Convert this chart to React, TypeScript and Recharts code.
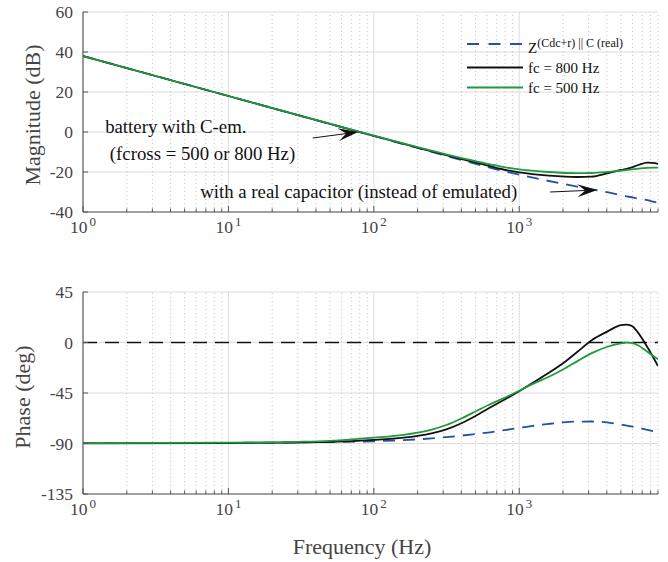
import React from 'react';
import { LineChart, Line, XAxis, YAxis, CartesianGrid, ReferenceLine, ReferenceDot } from 'recharts';

const magFreq = [1, 10, 100, 200, 315, 500, 750, 1000, 1600, 2500, 3150, 4000, 5000, 5800, 6600, 7600, 8300, 9000];
const magReal = [38, 18, -2, -8, -12, -15.9, -19.3, -21.3, -24.5, -27.3, -28.7, -30.1, -31.6, -32.5, -33.3, -34.1, -34.8, -35.4];
const mag800 = [38, 18, -1.9, -7.8, -11.6, -15.2, -18.5, -20.2, -21.8, -22.5, -22.3, -20.7, -19.0, -17.9, -16.5, -15.3, -15.4, -16.0];
const mag500 = [38, 18, -1.8, -7.6, -11.2, -14.6, -17.3, -18.7, -20.0, -20.6, -20.5, -20.0, -19.3, -18.8, -18.3, -17.9, -17.8, -17.8];

const phaseFreq = [1, 10, 30, 50, 100, 160, 200, 250, 315, 400, 500, 630, 800, 1000, 1200, 1600, 2000, 2500, 3150, 4000, 5000, 5500, 6000, 6500, 7600, 9000];
const phaseReal = [-89.6, -89.4, -89, -88.7, -88, -87, -86.3, -85.4, -84.3, -83, -81.6, -80, -78, -76, -74.6, -72.5, -71.2, -70.5, -70.4, -71.2, -73, -74, -75, -75.8, -77.8, -80];
const phase800 = [-89.8, -89.6, -89.1, -88.6, -86.8, -84.8, -83.2, -81, -77.5, -72, -65.5, -58, -50.5, -43.5, -37, -27, -18.5, -8.5, 2, 9.5, 15.5, 16, 14.5, 9.5, -4, -21];
const phase500 = [-89.7, -89.3, -88.5, -87.6, -84.8, -82.3, -80.3, -77.6, -73.5, -67.7, -61.5, -55, -49, -43, -37.8, -30.5, -24, -16.8, -9.5, -4, -0.8, 0, -0.6, -2.2, -8.2, -15];

const majorTicks = [1, 10, 100, 1000];
const minorTicks = [2, 3, 4, 5, 6, 7, 8, 9, 20, 30, 40, 50, 60, 70, 80, 90, 200, 300, 400, 500, 600, 700, 800, 900, 2000, 3000, 4000, 5000, 6000, 7000, 8000, 9000];
const allXTicks = [...majorTicks, ...minorTicks].sort((a, b) => a - b);
const magTicks = [-40, -20, 0, 20, 40, 60];
const phaseTicks = [-135, -90, -45, 0, 45];

const legendLabels = ['fc = 800 Hz', 'fc = 500 Hz'];

const magData = magFreq.map((f, i) => ({ f, real: magReal[i], fc800: mag800[i], fc500: mag500[i] }));
const phaseData = phaseFreq.map((f, i) => ({ f, real: phaseReal[i], fc800: phase800[i], fc500: phase500[i] }));

const FONT = 'Liberation Serif, "DejaVu Serif", serif';
const AXIS = '#555';
const TXT = '#444';
const BLUE = '#2350a8';
const BLACK = '#111';
const GREEN = '#1f9a3c';

function XTick(props: any) {
  const { x, y, payload } = props;
  const v = payload.value;
  const major = majorTicks.includes(v);
  const exp = Math.round(Math.log10(v));
  return (
    <g>
      <line x1={x} x2={x} y1={y} y2={y - (major ? 6 : 3.5)} stroke={AXIS} strokeWidth={1} />
      {major && (
        <text x={x} y={y + 21} textAnchor="middle" style={{ fontFamily: FONT }} fontSize={17.5} fill={TXT}>
          10<tspan dx={2} dy={-7} fontSize={13}>{exp}</tspan>
        </text>
      )}
    </g>
  );
}

function YTick(props: any) {
  const { x, y, payload } = props;
  return (
    <g>
      <line x1={x} x2={x + 5} y1={y} y2={y} stroke={AXIS} strokeWidth={1} />
      <text x={x - 10} y={y + 6} textAnchor="end" style={{ fontFamily: FONT }} fontSize={17.5} fill={TXT}>
        {payload.value}
      </text>
    </g>
  );
}

function Arrow(props: any) {
  const { x1, y1, x2, y2 } = props;
  const dx = x2 - x1;
  const dy = y2 - y1;
  const len = Math.sqrt(dx * dx + dy * dy) || 1;
  const ux = dx / len;
  const uy = dy / len;
  const nx = -uy;
  const ny = ux;
  const L = 20;
  const W = 6.5;
  const bx = x2 - L * ux;
  const by = y2 - L * uy;
  const mx = x2 - 0.6 * L * ux;
  const my = y2 - 0.6 * L * uy;
  const pts = `${x2},${y2} ${bx + W * nx},${by + W * ny} ${mx},${my} ${bx - W * nx},${by - W * ny}`;
  return (
    <g>
      <line x1={x1} y1={y1} x2={mx} y2={my} stroke={BLACK} strokeWidth={1} />
      <polygon points={pts} fill={BLACK} />
    </g>
  );
}

const textShape = (t: string) => (p: any) => (
  <text x={p.cx} y={p.cy} style={{ fontFamily: FONT }} fontSize={18.8} fill={BLACK}>{t}</text>
);

function gridLines() {
  return [
    ...minorTicks.map((v) => (
      <ReferenceLine key={'mi' + v} x={v} stroke="#c4c4c4" strokeWidth={1} strokeDasharray="1 3" />
    )),
    ...majorTicks.slice(1).map((v) => (
      <ReferenceLine key={'ma' + v} x={v} stroke="#dcdcdc" strokeWidth={1} />
    )),
  ];
}

export default function App() {
  const W = 668;
  return (
    <div style={{ position: 'absolute', left: 0, top: 0, width: W, height: 562, background: '#fff' }}>
      <div style={{ position: 'absolute', left: 0, top: 0 }}>
        <LineChart width={W} height={270} data={magData} margin={{ top: 12, right: 10, left: 13, bottom: 0 }}>
          <CartesianGrid vertical={false} stroke="#dcdcdc" />
          {gridLines()}
          <XAxis dataKey="f" type="number" scale="log" domain={[1, 9000]} allowDataOverflow ticks={allXTicks}
            interval={0} tick={<XTick />} tickLine={false} tickSize={0} tickMargin={0} height={58}
            axisLine={{ stroke: AXIS, strokeWidth: 1.2 }} />
          <YAxis type="number" domain={[-40, 60]} allowDataOverflow ticks={magTicks} interval={0} width={70}
            tick={<YTick />} tickLine={false} tickSize={0} tickMargin={0} axisLine={{ stroke: AXIS, strokeWidth: 1.2 }} />
          <Line type="monotone" dataKey="real" stroke={BLUE} strokeWidth={1.8} strokeDasharray="12 8" dot={false} isAnimationActive={false} />
          <Line type="monotone" dataKey="fc800" stroke={BLACK} strokeWidth={1.8} dot={false} isAnimationActive={false} />
          <Line type="monotone" dataKey="fc500" stroke={GREEN} strokeWidth={1.8} dot={false} isAnimationActive={false} />
          <ReferenceLine segment={[{ x: 38, y: -3 }, { x: 78, y: 0 }]} shape={(p: any) => <Arrow {...p} />} />
          <ReferenceLine segment={[{ x: 1630, y: -30 }, { x: 3440, y: -29 }]} shape={(p: any) => <Arrow {...p} />} />
          <ReferenceDot x={1.42} y={-0.6} r={0} shape={textShape('battery with C-em.')} />
          <ReferenceDot x={1.53} y={-14} r={0} shape={textShape('(fcross = 500 or 800 Hz)')} />
          <ReferenceDot x={6.4} y={-33} r={0} shape={textShape('with a real capacitor (instead of emulated)')} />
        </LineChart>
      </div>
      <div style={{ position: 'absolute', left: 0, top: 270 }}>
        <LineChart width={W} height={292} data={phaseData} margin={{ top: 22, right: 10, left: 13, bottom: 0 }}>
          <CartesianGrid vertical={false} stroke="#dcdcdc" />
          {gridLines()}
          <XAxis dataKey="f" type="number" scale="log" domain={[1, 9000]} allowDataOverflow ticks={allXTicks}
            interval={0} tick={<XTick />} tickLine={false} tickSize={0} tickMargin={0} height={68}
            axisLine={{ stroke: AXIS, strokeWidth: 1.2 }} />
          <YAxis type="number" domain={[-135, 45]} allowDataOverflow ticks={phaseTicks} interval={0} width={70}
            tick={<YTick />} tickLine={false} tickSize={0} tickMargin={0} axisLine={{ stroke: AXIS, strokeWidth: 1.2 }} />
          <ReferenceLine y={0} stroke={BLACK} strokeWidth={1.4} strokeDasharray="14 8" />
          <Line type="monotone" dataKey="real" stroke={BLUE} strokeWidth={1.8} strokeDasharray="12 8" dot={false} isAnimationActive={false} />
          <Line type="monotone" dataKey="fc800" stroke={BLACK} strokeWidth={1.8} dot={false} isAnimationActive={false} />
          <Line type="monotone" dataKey="fc500" stroke={GREEN} strokeWidth={1.8} dot={false} isAnimationActive={false} />
        </LineChart>
      </div>
      <svg width={W} height={562} style={{ position: 'absolute', left: 0, top: 0, pointerEvents: 'none', fontFamily: FONT }}>
        <text transform="translate(40,115) rotate(-90)" textAnchor="middle" fontSize={22} fill={TXT}>Magnitude (dB)</text>
        <text transform="translate(30,397) rotate(-90)" textAnchor="middle" fontSize={22} fill={TXT}>Phase (deg)</text>
        <text x={362} y={554} textAnchor="middle" fontSize={22} fill={TXT}>Frequency (Hz)</text>
        <line x1={467} x2={523} y1={44} y2={44} stroke={BLUE} strokeWidth={1.8} strokeDasharray="12 9.5" />
        <line x1={467} x2={523} y1={67.5} y2={67.5} stroke={BLACK} strokeWidth={1.8} />
        <line x1={467} x2={523} y1={87.5} y2={87.5} stroke={GREEN} strokeWidth={1.8} />
        <text x={528} y={53} fontSize={15} fill={BLACK}>Z<tspan dy={-6} fontSize={12}>(Cdc+r) || C (real)</tspan></text>
        <text x={528} y={73} fontSize={15} fill={BLACK}>{legendLabels[0]}</text>
        <text x={528} y={93} fontSize={15} fill={BLACK}>{legendLabels[1]}</text>
      </svg>
    </div>
  );
}
